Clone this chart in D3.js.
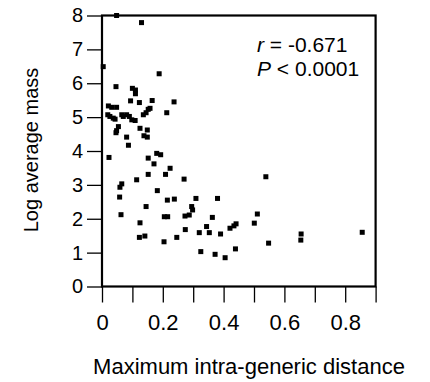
<!DOCTYPE html>
<html>
<head>
<meta charset="utf-8">
<script src="https://cdn.jsdelivr.net/npm/d3@7"></script>
<style>
  body { margin: 0; background: #fff; }
  text { font-family: 'Liberation Sans', Arial, sans-serif; fill: #000; }
</style>
</head>
<body>
<div id="chart"></div>
<script>
// distance values (x) and log average mass (y)
let distance = [
  0.048, 0.13, 0.004, 0.188, 0.046, 0.10, 0.11, 0.11, 0.094, 0.123, 0.165, 0.237, 0.213,
  0.021, 0.032, 0.048, 0.019, 0.026, 0.037, 0.043, 0.065, 0.07, 0.081, 0.09, 0.098, 0.109,
  0.136, 0.145, 0.152, 0.158, 0.054, 0.048, 0.046, 0.125, 0.149, 0.138, 0.149, 0.081, 0.087,
  0.023, 0.114, 0.152, 0.171, 0.18, 0.193, 0.152, 0.209, 0.224, 0.27, 0.065, 0.059, 0.058,
  0.182, 0.215, 0.238, 0.309, 0.38, 0.145, 0.295, 0.298, 0.0625, 0.205, 0.216, 0.273, 0.287,
  0.363, 0.125, 0.274, 0.344, 0.32, 0.353, 0.39, 0.421, 0.441, 0.434, 0.123, 0.141, 0.246,
  0.204, 0.325, 0.372, 0.405, 0.439, 0.539, 0.511, 0.501, 0.548, 0.655, 0.654, 0.856
];
let logMass = [
  8.0, 7.79, 6.49, 6.28, 5.90, 5.85, 5.8, 5.69, 5.48, 5.43, 5.49, 5.45, 5.13,
  5.33, 5.29, 5.29, 5.07, 5.02, 4.97, 4.94, 5.07, 5.02, 5.07, 5.02, 4.92, 4.90,
  5.07, 5.13, 5.23, 5.26, 4.72, 4.60, 4.54, 4.67, 4.62, 4.45, 4.41, 4.41, 4.17,
  3.81, 3.15, 3.79, 3.62, 3.93, 3.89, 3.31, 3.31, 3.49, 3.17, 3.03, 2.93, 2.64,
  2.83, 2.55, 2.58, 2.60, 2.60, 2.36, 2.36, 2.26, 2.12, 2.06, 2.06, 2.08, 2.11,
  2.04, 1.88, 1.68, 1.77, 1.59, 1.59, 1.55, 1.72, 1.85, 1.79, 1.45, 1.49, 1.45,
  1.32, 1.03, 0.95, 0.85, 1.11, 3.24, 2.14, 1.87, 1.28, 1.55, 1.37, 1.60
];
let xTicks = [0, 0.1, 0.2, 0.3, 0.4, 0.5, 0.6, 0.7, 0.8, 0.9];
let xTickLabels = ['0', '', '0.2', '', '0.4', '', '0.6', '', '0.8', ''];
let yTicks = [0, 1, 2, 3, 4, 5, 6, 7, 8];
let statLines = [['r', ' = -0.671'], ['P', ' < 0.0001']];

let width = 430, height = 382;
let svg = d3.select('#chart').append('svg')
  .attr('width', width)
  .attr('height', height);

// plot box edges
let boxLeft = 102, boxRight = 375.6, boxTop = 15.5, boxBottom = 286.5;
let x = d3.scaleLinear().domain([0, 0.9]).range([boxLeft, boxRight]);
let y = d3.scaleLinear().domain([0, 8]).range([boxBottom, boxTop]);

// x axis
let xAxis = svg.append('g')
  .attr('transform', `translate(0,${boxBottom})`)
  .call(d3.axisBottom(x).tickValues(xTicks).tickSize(16).tickPadding(12)
    .tickFormat((d, i) => xTickLabels[i]));
xAxis.select('.domain').remove();
xAxis.selectAll('line').attr('stroke', '#000').attr('stroke-width', 1.3);
xAxis.selectAll('text').style('font-size', '22px').attr('font-family', null);

// y axis
let yAxis = svg.append('g')
  .attr('transform', `translate(${boxLeft},0)`)
  .call(d3.axisLeft(y).tickValues(yTicks).tickSize(15).tickPadding(4)
    .tickFormat(d3.format('d')));
yAxis.select('.domain').remove();
yAxis.selectAll('line').attr('stroke', '#000').attr('stroke-width', 1.3);
yAxis.selectAll('text').style('font-size', '20px').attr('font-family', null);

// frame
svg.append('rect')
  .attr('x', boxLeft)
  .attr('y', boxTop)
  .attr('width', boxRight - boxLeft)
  .attr('height', boxBottom - boxTop)
  .attr('fill', 'none')
  .attr('stroke', '#000')
  .attr('stroke-width', 2.2);

// points
let pts = distance.map((d, i) => [d, logMass[i]]);
svg.append('g').selectAll('rect')
  .data(pts)
  .enter().append('rect')
  .attr('x', d => x(d[0]) - 2.5)
  .attr('y', d => y(d[1]) - 2.5)
  .attr('width', 5)
  .attr('height', 5)
  .attr('fill', '#000');

// stats annotation, left aligned inside the top right corner
statLines.forEach(function(s, i) {
  let t = svg.append('text')
    .attr('x', 257)
    .attr('y', 52 + i * 24)
    .style('font-size', '21px');
  t.append('tspan').style('font-style', 'italic').text(s[0]);
  t.append('tspan').text(s[1]);
});

// axis titles
svg.append('text')
  .attr('x', 249)
  .attr('y', 374)
  .attr('text-anchor', 'middle')
  .style('font-size', '22px')
  .text('Maximum intra-generic distance');

svg.append('text')
  .attr('transform', 'translate(38,150) rotate(-90)')
  .attr('text-anchor', 'middle')
  .style('font-size', '20px')
  .text('Log average mass');
</script>
</body>
</html>
